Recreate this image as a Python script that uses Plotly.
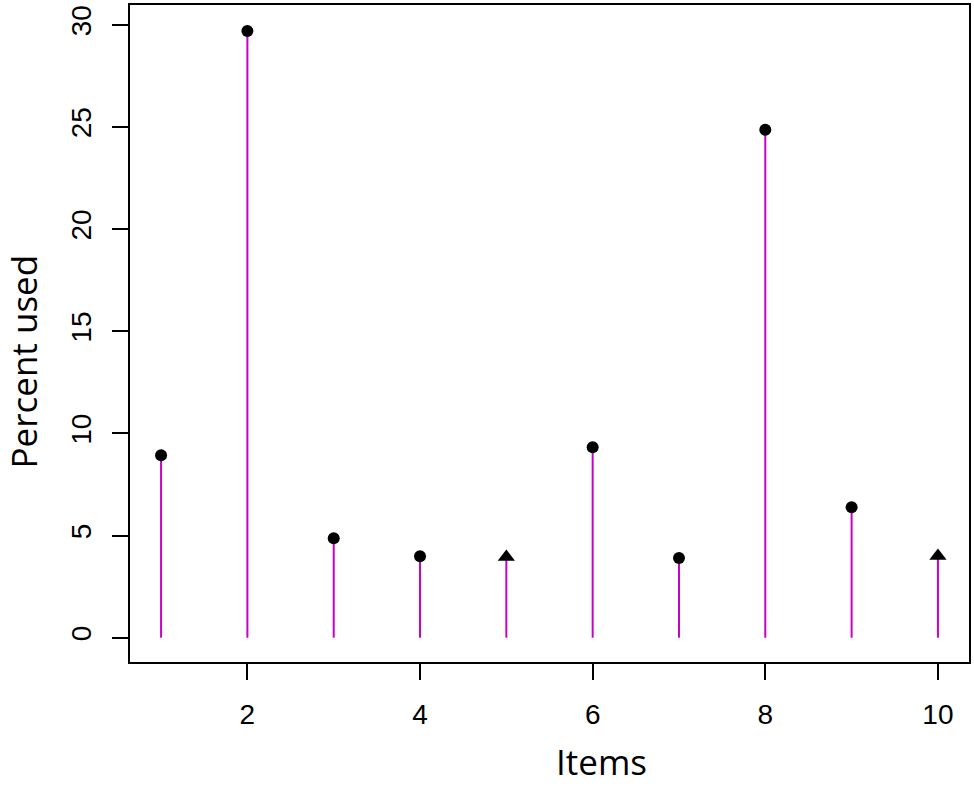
import plotly.graph_objects as go

items = [1, 2, 3, 4, 5, 6, 7, 8, 9, 10]
percent_used = [8.93, 29.7, 4.87, 3.99, 3.95, 9.32, 3.90, 24.86, 6.39, 4.0]
marker_shape = ["circle", "circle", "circle", "circle", "triangle-up",
                "circle", "circle", "circle", "circle", "triangle-up"]
x_ticks = [2, 4, 6, 8, 10]
y_ticks = [0, 5, 10, 15, 20, 25, 30]
x_title = "Items"
y_title = "Percent used"

stem_x, stem_y = [], []
for xi, yi in zip(items, percent_used):
    stem_x += [xi, xi, None]
    stem_y += [0, yi, None]

marker_size = [15 if s == "triangle-up" else 12 for s in marker_shape]

fig = go.Figure()
fig.add_trace(go.Scatter(x=stem_x, y=stem_y, mode="lines",
                         line=dict(color="#C800C8", width=2),
                         hoverinfo="skip", showlegend=False))
fig.add_trace(go.Scatter(x=items, y=percent_used, mode="markers",
                         marker=dict(symbol=marker_shape, size=marker_size,
                                     color="black", opacity=1, line=dict(width=0)),
                         showlegend=False))

tick_family = "Liberation Sans, Arial, sans-serif"
title_family = "Open Sans, sans-serif"
axis_common = dict(showline=True, linecolor="black", linewidth=2, mirror=True,
                   showgrid=False, zeroline=False, ticks="outside",
                   ticklen=16, tickwidth=2, tickcolor="black",
                   tickfont=dict(family=tick_family, size=28, color="black"))

fig.update_layout(
    width=974, height=786,
    margin=dict(l=130, r=4, t=3, b=124),
    paper_bgcolor="white", plot_bgcolor="white",
    font=dict(family=tick_family, color="black"),
    xaxis=dict(range=[0.64, 10.36], tickvals=x_ticks, ticklabelstandoff=10,
               **axis_common),
    yaxis=dict(range=[-1.19, 30.97], tickvals=y_ticks, tickangle=-90,
               ticklabelstandoff=10, **axis_common),
    annotations=[
        dict(text=x_title, xref="paper", yref="paper", x=0.562, y=-0.152,
             xanchor="center", yanchor="middle", showarrow=False, borderpad=0,
             font=dict(family=title_family, size=35, color="black")),
        dict(text=y_title, xref="paper", yref="paper", x=-0.127, y=0.458,
             xanchor="center", yanchor="middle", showarrow=False, textangle=-90,
             borderpad=0, font=dict(family=title_family, size=35, color="black")),
    ],
)

fig.write_html("out.html", config={"displayModeBar": False},
               post_script="document.body.style.margin='0';")
